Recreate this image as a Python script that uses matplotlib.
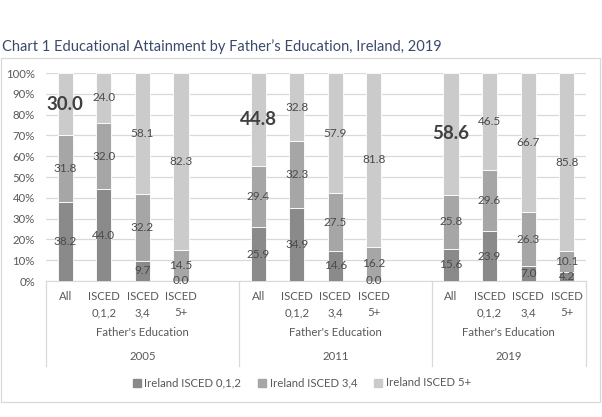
import numpy as np
import matplotlib
matplotlib.use("Agg")
import matplotlib.pyplot as plt
from matplotlib.patches import Rectangle
from matplotlib.lines import Line2D

plt.rcParams['font.family'] = ['Lato', 'DejaVu Sans']

# ---- data ----
years = ["2005", "2011", "2019"]
cats = ["All", "ISCED\n0,1,2", "ISCED\n3,4", "ISCED\n5+"]
series = ["Ireland ISCED 0,1,2", "Ireland ISCED 3,4", "Ireland ISCED 5+"]
isced012 = [38.2, 44.0, 9.7, 0.0, 25.9, 34.9, 14.6, 0.0, 15.6, 23.9, 7.0, 4.2]
isced34 = [31.8, 32.0, 32.2, 14.5, 29.4, 32.3, 27.5, 16.2, 25.8, 29.6, 26.3, 10.1]
isced5 = [30.0, 24.0, 58.1, 82.3, 44.8, 32.8, 57.9, 81.8, 58.6, 46.5, 66.7, 85.8]

colors = ["#8a8a8a", "#a6a6a6", "#cbcbcb"]
txt = "#595959"
grid = "#d9d9d9"

W, H = 602, 417
fig = plt.figure(figsize=(W / 100, H / 100), dpi=100)

def fx(px):
    return px / W

def fy(py):
    return 1 - py / H

ax = fig.add_axes([fx(46), fy(281), fx(586) - fx(46), fy(73) - fy(281)])

# slot positions: 4 bars + 1 blank per year (last year has no blank)
pos = []
for g in range(3):
    for c in range(4):
        pos.append(g * 5 + c)
pos = np.array(pos)

vals = np.array([isced012, isced34, isced5])
tot = vals.sum(axis=0)
pct = vals / tot * 100

bottom = np.zeros(len(pos))
for i in range(3):
    ax.bar(pos, pct[i], 0.39, bottom=bottom, color=colors[i],
           edgecolor="white", linewidth=0.6, zorder=3, label=series[i])
    for j in range(len(pos)):
        yc = bottom[j] + pct[i][j] / 2
        if i == 2 and j % 4 == 0:
            ax.text(pos[j], yc, f"{vals[i][j]:.1f}", ha="center", va="center",
                    fontsize=13.5, fontweight="bold", color="#404040", zorder=4)
        else:
            ax.text(pos[j], yc, f"{vals[i][j]:.1f}", ha="center", va="center",
                    fontsize=8.5, color="#4a4a4a", zorder=4)
    bottom += pct[i]

ax.set_xlim(-0.5, 13.5)
ax.set_ylim(0, 100)
ax.set_yticks(np.arange(0, 101, 10))
ax.set_yticklabels([f"{v}%" for v in range(0, 101, 10)], fontsize=8.2, color=txt)
ax.yaxis.grid(True, color=grid, linewidth=0.9, zorder=0)
ax.tick_params(axis="y", length=0, pad=8)
ax.set_xticks([])
for s in ["top", "right", "left"]:
    ax.spines[s].set_visible(False)
ax.spines["bottom"].set_color(grid)

# multi-level category axis
for j, p in enumerate(pos):
    xf = fx(46 + (p + 0.5) * 540 / 14)
    fig.text(xf, fy(291), cats[j % 4], ha="center", va="top", fontsize=8.2,
             color=txt, linespacing=1.6)
group_centers = [2.0, 7.0, 11.5]
for g in range(3):
    xf = fx(46 + (group_centers[g] + 0.5) * 540 / 14)
    fig.text(xf, fy(333), "Father's Education", ha="center", va="center",
             fontsize=8.2, color=txt)
    fig.text(xf, fy(356), years[g], ha="center", va="center",
             fontsize=8.2, color=txt)
for b in [-0.5, 4.5, 9.5, 13.5]:
    xf = fx(46 + (b + 0.5) * 540 / 14)
    fig.add_artist(Line2D([xf, xf], [fy(281), fy(366)], color=grid, linewidth=0.9))

# legend
handles = [Rectangle((0, 0), 1, 1, color=c) for c in colors]
fig.legend(handles, series, loc="center", bbox_to_anchor=(fx(302), fy(383)),
           ncol=3, frameon=False, fontsize=8.2, labelcolor=txt,
           handlelength=0.7, handleheight=0.7, handletextpad=0.3, columnspacing=1.5)

# chart frame and title
fig.add_artist(Rectangle((fx(0.5), fy(402)), fx(600) - fx(0.5), fy(58) - fy(402),
                         fill=False, edgecolor=grid, linewidth=0.9))
fig.text(fx(2), fy(47), "Chart 1 Educational Attainment by Father\u2019s Education, Ireland, 2019",
         ha="left", va="center", fontsize=10.5, color="#3b4a6b")

fig.savefig("out.png", dpi=100)
